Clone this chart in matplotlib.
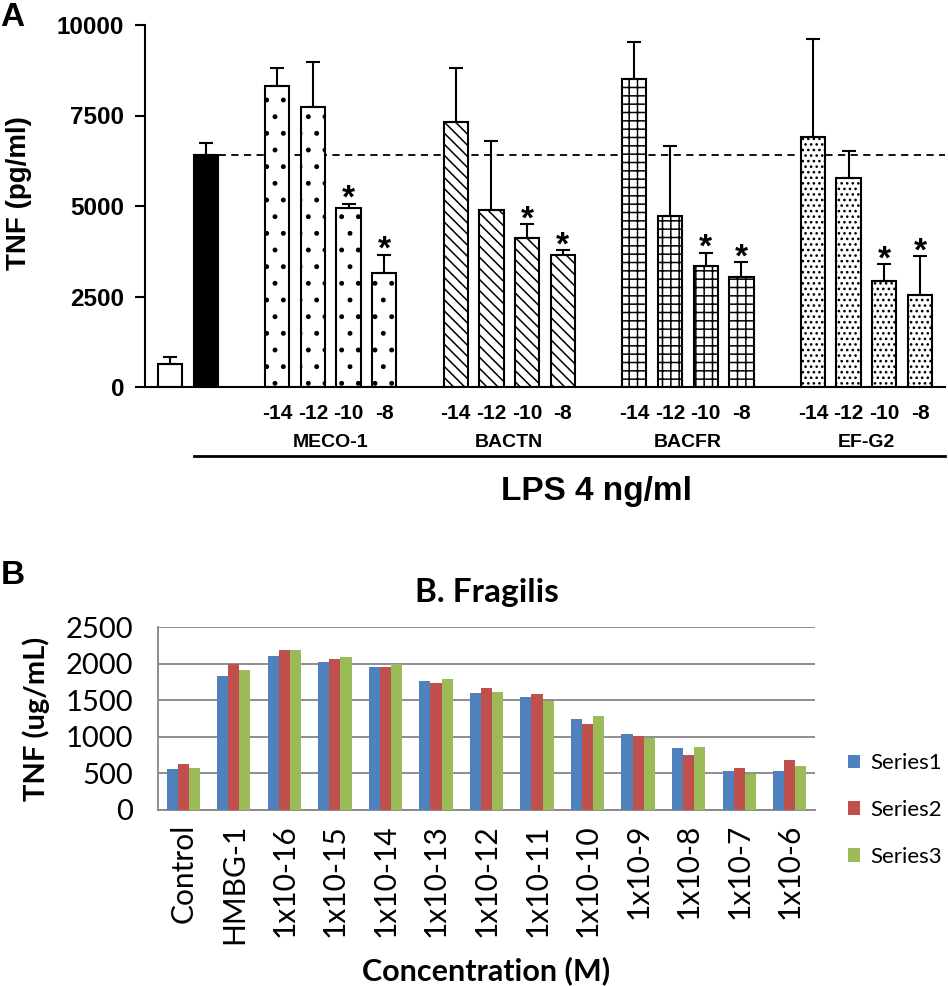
import numpy as np
import matplotlib.pyplot as plt
from matplotlib.transforms import blended_transform_factory

# ---- panel A data (TNF pg/ml) ----
control_a = 630
control_a_err = 200
lps_a = 6420
lps_a_err = 320
group_names = ["MECO-1", "BACTN", "BACFR", "EF-G2"]
dose_labels = ["-14", "-12", "-10", "-8"]
meco = [8310, 7740, 4950, 3140]
meco_err = [510, 1240, 110, 520]
bactn = [7330, 4890, 4110, 3660]
bactn_err = [1490, 1910, 390, 120]
bacfr = [8510, 4730, 3350, 3050]
bacfr_err = [1030, 1920, 360, 400]
efg2 = [6910, 5760, 2940, 2540]
efg2_err = [2690, 770, 460, 1080]
significant = [False, False, True, True]

# ---- panel B data (TNF ug/mL) ----
conc_labels = ["Control", "HMBG-1", "1x10-16", "1x10-15", "1x10-14", "1x10-13",
               "1x10-12", "1x10-11", "1x10-10", "1x10-9", "1x10-8", "1x10-7", "1x10-6"]
series1 = [555, 1825, 2100, 2025, 1960, 1765, 1595, 1540, 1240, 1045, 845, 535, 535]
series2 = [625, 1995, 2180, 2065, 1960, 1740, 1670, 1585, 1180, 1010, 750, 575, 680]
series3 = [575, 1915, 2190, 2085, 1995, 1795, 1615, 1495, 1285, 985, 860, 490, 600]

W, H = 948, 986
fig = plt.figure(figsize=(W / 100, H / 100), dpi=100)
plt.rcParams['hatch.linewidth'] = 1.1


def px_axes(left, top, right, bottom):
    return fig.add_axes([left / W, 1 - bottom / H, (right - left) / W, (bottom - top) / H])


# ================= Panel A =================
fa = "Liberation Sans"
axA = px_axes(145, 25, 945, 387)
bw = 0.68
ek = dict(elinewidth=1.5, capsize=5, capthick=1.5, ecolor="black")

axA.bar(0, control_a, bw, yerr=[[0], [control_a_err]], color="white",
        edgecolor="black", linewidth=1.5, error_kw=ek)
axA.bar(1, lps_a, bw, yerr=[[0], [lps_a_err]], color="black",
        edgecolor="black", linewidth=1.5, error_kw=ek)

groups = [meco, bactn, bacfr, efg2]
errs = [meco_err, bactn_err, bacfr_err, efg2_err]
hatches = [".", "\\\\\\", "++", "..."]
starts = [3, 8, 13, 18]
trans = blended_transform_factory(axA.transData, axA.transAxes)
for vals, ee, hatch, s, name in zip(groups, errs, hatches, starts, group_names):
    x = s + np.arange(len(vals))
    axA.bar(x, vals, bw, yerr=[np.zeros(len(vals)), ee], color="white",
            edgecolor="black", linewidth=1.5, hatch=hatch, error_kw=ek)
    for xi, v, e, sig, lab in zip(x, vals, ee, significant, dose_labels):
        axA.text(xi, -0.072, lab, transform=trans, ha="center", va="center",
                 fontsize=15, fontweight="bold", family=fa)
        if sig:
            axA.annotate("*", xy=(xi, v + e), xytext=(0, -3), textcoords="offset points",
                         ha="center", va="baseline", fontsize=24, fontweight="bold", family=fa)
    axA.text(x.mean(), -0.152, name, transform=trans, ha="center", va="center",
             fontsize=14, fontweight="bold", family=fa)

xmin, xmax = -0.7, 21.7
axA.set_xlim(xmin, xmax)
axA.set_ylim(0, 10000)
axA.plot([1, xmax], [lps_a, lps_a], ls=(0, (4, 3)), color="black", lw=1.3, zorder=0)
axA.plot([1 - bw / 2, xmax], [-0.19, -0.19], transform=trans, color="black",
         lw=2, clip_on=False)
axA.text((1 - bw / 2 + xmax) / 2 + 0.75, -0.29, "LPS 4 ng/ml", transform=trans,
         ha="center", va="center", fontsize=24, fontweight="bold", family=fa)

axA.set_yticks([0, 2500, 5000, 7500, 10000])
axA.set_yticklabels(["0", "2500", "5000", "7500", "10000"], fontsize=17.5,
                    fontweight="bold", family=fa)
axA.set_xticks([])
axA.tick_params(axis="y", length=7, width=1.5, pad=8)
for sp in ["top", "right"]:
    axA.spines[sp].set_visible(False)
for sp in ["left", "bottom"]:
    axA.spines[sp].set_linewidth(1.5)
axA.set_ylabel("TNF (pg/ml)", fontsize=20, fontweight="bold", family=fa)
axA.yaxis.set_label_coords(-0.141, 0.535)
fig.text(0.5 / W, 1 - 18 / H, "A", fontsize=24, fontweight="bold", family=fa,
         ha="left", va="center")

# ================= Panel B =================
fb = "Lato"
axB = px_axes(158, 627, 815, 810)
cols = ["#4F81BD", "#C0504D", "#9BBB59"]
xb = np.arange(len(conc_labels))
w = 0.22
for k, (vals, c) in enumerate(zip([series1, series2, series3], cols)):
    axB.bar(xb + (k - 1) * w, vals, w, color=c, label=f"Series{k + 1}", zorder=3)

axB.set_xlim(-0.5, len(conc_labels) - 0.5)
axB.set_ylim(0, 2500)
axB.set_yticks(np.arange(0, 2501, 500))
axB.yaxis.grid(True, color="#868686", lw=1.3, zorder=0)
axB.set_axisbelow(True)
axB.set_xticks(xb)
axB.set_xticklabels(conc_labels, rotation=90, fontsize=21.5, family=fb)
for t in axB.get_yticklabels():
    t.set_fontsize(21)
    t.set_family(fb)
axB.tick_params(axis="both", length=0, pad=10)
axB.tick_params(axis="y", pad=18)
for sp in ["top", "right"]:
    axB.spines[sp].set_visible(False)
for sp in ["left", "bottom"]:
    axB.spines[sp].set_color("#868686")
    axB.spines[sp].set_linewidth(1.3)
axB.set_title("B. Fragilis", fontsize=24, fontweight="bold", family=fb, pad=18)
axB.set_ylabel("TNF (ug/mL)", fontsize=21, fontweight="bold", family=fb)
axB.yaxis.set_label_coords(-0.164, 0.5)
axB.set_xlabel("Concentration (M)", fontsize=22, fontweight="bold", family=fb)
axB.xaxis.set_label_coords(0.5, -0.80)
axB.legend(loc="center left", bbox_to_anchor=(1.02, 0.0), frameon=False,
           prop={"family": fb, "size": 16}, handlelength=0.55, handleheight=0.55,
           labelspacing=1.2, handletextpad=0.45)
fig.text(0.5 / W, 1 - 576 / H, "B", fontsize=24, fontweight="bold", family=fa,
         ha="left", va="center")

fig.savefig("out.png", dpi=100)
